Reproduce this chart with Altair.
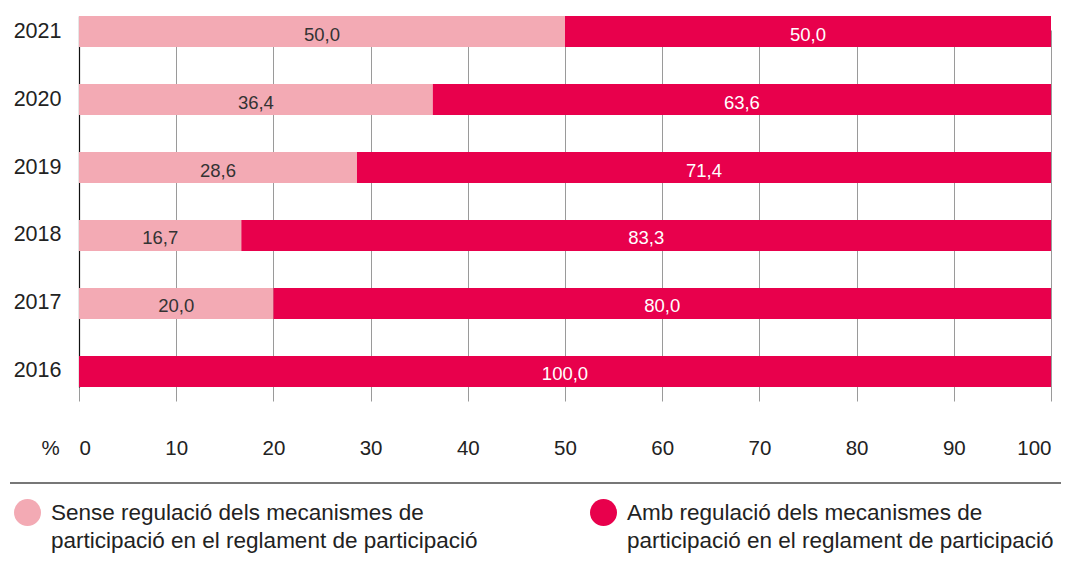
import altair as alt
import pandas as pd

years = ["2021", "2020", "2019", "2018", "2017", "2016"]
sense = [50.0, 36.4, 28.6, 16.7, 20.0, 0.0]
amb = [50.0, 63.6, 71.4, 83.3, 80.0, 100.0]
series = [
    "Sense regulació dels mecanismes de|participació en el reglament de participació",
    "Amb regulació dels mecanismes de|participació en el reglament de participació",
]
colors = ["#F3AAB4", "#E8004C"]
text_colors = ["#333333", "#FFFFFF"]
ticks = [0, 10, 20, 30, 40, 50, 60, 70, 80, 90, 100]

rows = []
for y, s, a in zip(years, sense, amb):
    start = 0.0
    for i, v in enumerate([s, a]):
        rows.append({
            "year": y, "series": series[i], "idx": i, "value": v,
            "start": start, "end": start + v, "mid": start + v / 2,
            "label": f"{v:.1f}".replace(".", ","), "tcolor": text_colors[i],
        })
        start += v
df = pd.DataFrame(rows)

FONT = "Liberation Sans"

yenc = alt.Y("year:N", sort=years, title=None,
             scale=alt.Scale(paddingInner=0.544, paddingOuter=0, range=[0, 371]),
             axis=alt.Axis(domainColor="#111111", domainWidth=1.2, ticks=False,
                           labelPadding=18, labelFontSize=21.5, labelColor="#222222",
                           labelFont=FONT))

xaxis = alt.Axis(values=ticks, grid=True, gridColor="#9a9a9a", gridWidth=1,
                 domain=False, ticks=False, labelPadding=37, labelFontSize=20.5,
                 labelColor="#222222", labelFont=FONT, title="%",
                 titleFontSize=20.5, titleFontWeight="normal", titleColor="#222222",
                 titleFont=FONT, titleX=-29, titleY=47, titleAlign="center",
                 titleBaseline="middle", titleAngle=0)

bars = alt.Chart(df).mark_bar().encode(
    y=yenc,
    x=alt.X("start:Q", scale=alt.Scale(domain=[0, 100], nice=False), axis=xaxis),
    x2="end:Q",
    color=alt.Color("series:N", sort=series,
                    scale=alt.Scale(domain=series, range=colors),
                    legend=alt.Legend(title=None, orient="none", legendX=-65,
                                      legendY=483, direction="horizontal",
                                      columns=2, columnPadding=112,
                                      symbolType="circle", symbolSize=729,
                                      symbolStrokeWidth=0, labelFontSize=22.5,
                                      labelFont=FONT, labelColor="#222222",
                                      labelLimit=700, labelOffset=10,
                                      labelExpr="split(datum.label, '|')")),
)

texts = alt.Chart(df).transform_filter("datum.value > 0").mark_text(
    fontSize=18.5, font=FONT, baseline="middle", dy=3
).encode(
    y=alt.Y("year:N", sort=years),
    x=alt.X("mid:Q"),
    text="label:N",
    color=alt.Color("tcolor:N", scale=None),
)

sep = alt.Chart(df).mark_rule(color="#777777", strokeWidth=1.5).encode(
    x=alt.value(-69), x2=alt.value(990), y=alt.value(467)
)

chart = alt.layer(bars, texts, sep).properties(
    width=972, height=385,
    autosize=alt.AutoSizeParams(type="none"),
    padding={"left": 71, "top": 8, "right": 10, "bottom": 160},
).configure(
    view=alt.ViewConfig(strokeWidth=0),
    style={"guide-label": {"lineHeight": 28}},
)

chart.save("out.html", embed_options={"renderer": "svg", "actions": False})
